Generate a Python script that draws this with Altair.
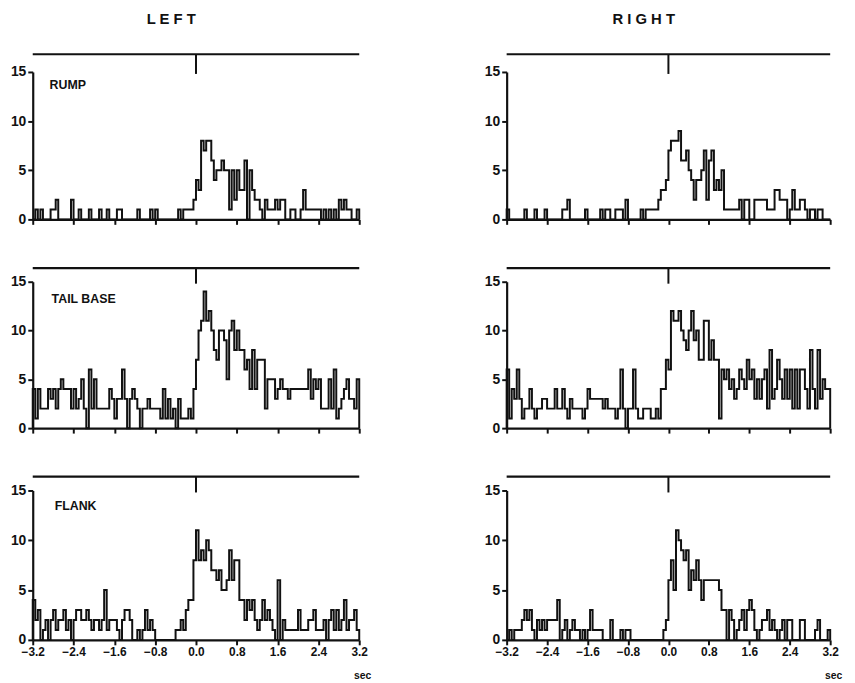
import altair as alt
import pandas as pd

# spike counts per 50 ms bin, 128 bins from -3.2 s to 3.2 s
rump_left = [
    0,1,0,1,0,0,0,1,1,2,0,0,0,0,0,2,
    0,0,1,0,0,0,1,0,0,0,1,0,0,1,0,0,
    0,1,1,0,0,0,0,0,0,1,0,0,0,0,1,0,
    1,0,0,0,0,0,0,0,0,1,0,1,1,1,1,2,
    4,3,8,7,8,8,6,4,5,5,6,5,5,1,5,2,
    5,3,3,6,0,5,3,2,2,1,0,2,1,1,1,2,
    1,2,2,0,0,1,1,0,0,1,3,1,1,1,1,1,
    1,0,1,0,1,0,1,0,2,1,2,1,1,0,0,1]
rump_right = [
    1,0,0,0,0,0,0,1,0,0,0,1,0,0,0,1,
    0,0,0,0,0,0,1,1,2,0,0,0,0,0,0,1,
    0,0,0,0,0,1,0,1,1,0,0,1,1,1,0,2,
    0,0,0,0,0,1,0,1,1,1,1,1,2,3,3,4,
    7,8,8,8,9,6,6,7,5,4,2,4,4,5,7,2,
    6,7,3,4,3,5,1,1,1,1,1,1,2,0,2,2,
    0,0,2,2,2,2,2,1,1,1,3,3,2,2,2,0,
    1,3,1,1,2,2,1,0,1,1,0,1,1,0,0,0]
tail_left = [
    4,1,4,2,2,2,4,3,4,2,4,5,4,4,4,2,
    4,2,3,5,2,0,6,2,5,2,2,2,2,2,4,3,
    1,3,3,6,3,0,3,4,3,2,0,2,2,3,2,2,
    2,2,1,4,1,3,1,2,0,3,1,1,1,2,1,4,
    7,10,11,14,11,12,10,8,7,10,10,9,5,10,11,8,
    10,8,8,6,7,4,8,4,7,7,7,2,5,5,5,3,
    4,5,4,4,3,4,4,4,4,4,4,4,6,3,5,4,
    5,2,2,2,5,2,6,1,2,3,4,5,3,3,2,5]
tail_right = [
    6,1,4,3,6,3,1,2,2,4,2,1,2,2,3,3,
    2,2,2,4,2,2,4,2,1,3,2,2,2,2,1,2,
    4,3,3,3,3,3,2,3,2,2,2,1,2,6,2,0,
    2,2,6,2,1,1,2,2,2,1,1,2,1,4,4,7,
    6,12,11,11,12,10,9,8,10,12,9,10,7,7,11,11,
    7,9,7,7,1,6,5,6,4,5,3,4,6,5,4,7,
    5,6,3,5,3,5,6,2,8,3,4,7,5,3,6,3,
    6,2,6,2,6,6,4,2,8,4,2,8,3,5,4,4]
flank_left = [
    4,2,3,0,1,2,0,2,3,1,2,2,3,1,2,0,
    2,3,3,2,2,3,2,1,2,2,1,2,5,1,2,2,
    2,1,0,2,3,3,2,0,0,1,0,1,3,1,2,1,
    0,0,0,0,0,0,0,0,1,1,2,1,3,4,4,8,
    11,8,9,8,10,9,7,7,6,7,5,5,6,9,6,8,
    8,4,4,2,4,3,4,2,1,2,4,2,3,2,1,0,
    6,0,2,1,1,1,1,1,3,1,1,1,2,2,3,1,
    1,1,2,0,2,3,1,3,1,2,4,1,2,2,3,1]
flank_right = [
    0,1,0,1,1,1,2,3,2,3,1,0,2,1,2,1,
    2,2,2,2,4,0,1,2,0,1,2,1,1,0,1,0,
    1,3,1,1,1,1,0,0,0,2,0,0,0,1,0,1,
    1,0,0,0,0,0,0,0,0,0,0,0,0,0,1,2,
    6,8,5,11,10,9,8,9,5,7,6,8,6,4,6,6,
    6,6,6,6,5,3,3,0,3,2,0,1,2,3,1,3,
    4,3,1,0,1,2,2,3,1,2,1,0,1,2,0,2,
    2,0,0,0,2,2,0,0,0,0,1,2,0,0,0,1]

x_ticks = [-3.2, -2.4, -1.6, -0.8, 0.0, 0.8, 1.6, 2.4, 3.2]
y_ticks = [0, 5, 10, 15]
site_labels = ["RUMP", "TAIL   BASE", "FLANK"]
side_titles = ["L E F T", "R I G H T"]
BIN = 0.05
T0, T1 = -3.2, 3.2

FONT = "Liberation Sans"
INK = "#111111"


def hist_frame(values):
    rows = [{"t": T0, "n": 0, "k": 0}]
    for i, v in enumerate(values):
        rows.append({"t": round(T0 + BIN * i, 3), "n": v, "k": i + 1})
    rows.append({"t": T1, "n": values[-1], "k": len(values) + 1})
    rows.append({"t": T1, "n": 0, "k": len(values) + 2})
    return pd.DataFrame(rows)


def panel(values, label, lab_x, lab_y, width, height, bottom, rule_y, title=None):
    xscale = alt.Scale(domain=[T0, T1], nice=False, zero=False)
    yscale = alt.Scale(domain=[0, 15], nice=False)
    if bottom:
        xaxis = alt.Axis(values=x_ticks, format=".1f", title="sec",
                         labelFont=FONT, labelFontWeight="bold", labelFontSize=12,
                         labelColor=INK, labelPadding=2,
                         titleFont=FONT, titleFontWeight="bold", titleFontSize=10.5,
                         titleColor=INK, titleX=width + 3, titleY=31,
                         titleAlign="center",
                         tickSize=5, tickWidth=2, domainWidth=2.2,
                         domainColor=INK, tickColor=INK, grid=False,
                         labelOverlap=False, labelFlush=False)
    else:
        xaxis = alt.Axis(values=x_ticks, labels=False, title=None,
                         tickSize=5, tickWidth=2, domainWidth=2.2,
                         domainColor=INK, tickColor=INK, grid=False)
    yaxis = alt.Axis(values=y_ticks, title=None, labelFont=FONT,
                     labelFontWeight="bold", labelFontSize=14, labelColor=INK,
                     tickSize=5, tickWidth=2, domainWidth=2.2, labelPadding=2,
                     domainColor=INK, tickColor=INK, grid=False)

    df = hist_frame(values)
    hist = alt.Chart(df).mark_line(interpolate="step-after", color=INK,
                                   strokeWidth=2).encode(
        x=alt.X("t:Q", scale=xscale, axis=xaxis),
        y=alt.Y("n:Q", scale=yscale, axis=yaxis),
        order=alt.Order("k:Q"),
    )
    top = alt.Chart(pd.DataFrame({"a": [T0], "b": [T1], "y": [rule_y]})).mark_rule(
        color=INK, strokeWidth=2.2).encode(
        x=alt.X("a:Q", scale=xscale), x2="b:Q", y=alt.Y("y:Q", scale=yscale))
    stim = alt.Chart(pd.DataFrame({"x": [0.0], "y": [rule_y], "y2": [14.8]})).mark_rule(
        color=INK, strokeWidth=2).encode(
        x=alt.X("x:Q", scale=xscale), y=alt.Y("y:Q", scale=yscale), y2="y2:Q")
    txt = alt.Chart(pd.DataFrame({"x": [lab_x], "y": [lab_y], "s": [label]})).mark_text(
        align="left", baseline="middle", font=FONT, fontWeight="bold",
        fontSize=12.5, color=INK).encode(
        x=alt.X("x:Q", scale=xscale), y=alt.Y("y:Q", scale=yscale), text="s:N")
    ch = alt.layer(hist, top, stim, txt).properties(width=width, height=height)
    if title is not None:
        ch = ch.properties(title=alt.TitleParams(
            title, font=FONT, fontSize=15, fontWeight="bold", color=INK,
            offset=27, dx=-25, anchor="middle"))
    return ch


LW, RW = 330, 327
panels = [
    panel(rump_left, site_labels[0], -2.87, 13.7, LW, 149, False, 16.8, side_titles[0]),
    panel(rump_right, "", 0, 0, RW, 149, False, 16.8, side_titles[1]),
    panel(tail_left, site_labels[1], -2.83, 13.2, LW, 148, False, 16.4),
    panel(tail_right, "", 0, 0, RW, 148, False, 16.4),
    panel(flank_left, site_labels[2], -2.77, 13.4, LW, 151, True, 16.4),
    panel(flank_right, "", 0, 0, RW, 151, True, 16.4),
]

chart = alt.concat(*panels, columns=2, bounds="flush",
                   spacing={"row": 63, "column": 149}).properties(
    padding={"left": 2, "top": 0, "right": 5, "bottom": 5},
    background="white",
).configure_view(strokeOpacity=0)

chart.save("out.html", embed_options={"renderer": "svg", "actions": False})
